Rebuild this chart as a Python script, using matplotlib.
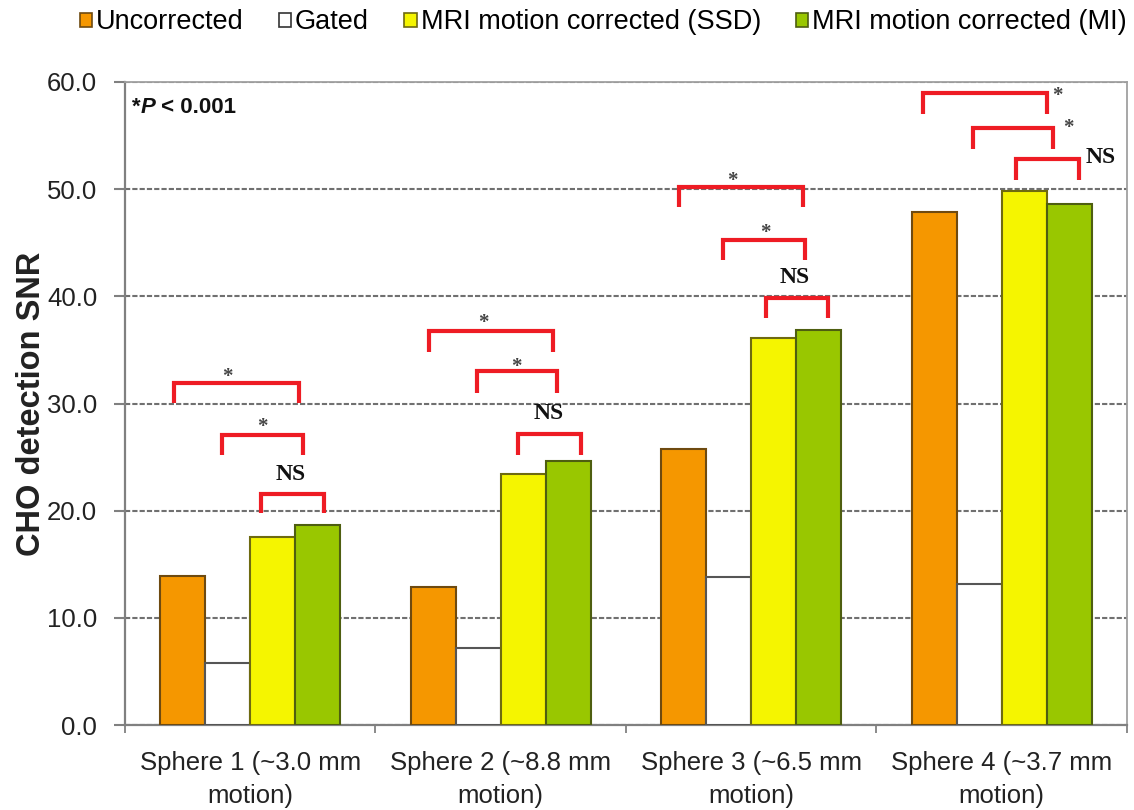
import matplotlib
matplotlib.use("Agg")
import matplotlib.pyplot as plt
from matplotlib.patches import Patch
import numpy as np

plt.rcParams["font.family"] = ["Liberation Sans", "DejaVu Sans"]

# ---- data ----
categories = ["Sphere 1 (~3.0 mm\nmotion)", "Sphere 2 (~8.8 mm\nmotion)",
              "Sphere 3 (~6.5 mm\nmotion)", "Sphere 4 (~3.7 mm\nmotion)"]
series_names = ["Uncorrected", "Gated", "MRI motion corrected (SSD)",
                "MRI motion corrected (MI)"]
uncorrected = [13.9, 12.9, 25.8, 47.9]
gated = [5.8, 7.2, 13.8, 13.2]
ssd = [17.5, 23.4, 36.1, 49.8]
mi = [18.7, 24.6, 36.9, 48.6]
y_ticks = [0, 10, 20, 30, 40, 50, 60]

# significance brackets per sphere: (left, right, top, leg end, label, label x, label y)
brackets = [
    [(-0.304, 0.195, 31.95, 30.07, "*", -0.090, 33.1),
     (-0.114, 0.209, 27.1, 25.2, "*", 0.050, 28.4),
     (0.042, 0.296, 21.6, 19.8, "NS", 0.161, 23.4)],
    [(-0.286, 0.210, 36.8, 34.8, "*", -0.070, 38.1),
     (-0.096, 0.223, 33.0, 31.0, "*", 0.064, 34.05),
     (0.068, 0.320, 27.2, 25.2, "NS", 0.190, 29.1)],
    [(-0.287, 0.208, 50.2, 48.3, "*", -0.074, 51.4),
     (-0.114, 0.215, 45.3, 43.4, "*", 0.058, 46.5),
     (0.059, 0.308, 39.8, 38.0, "NS", 0.175, 41.8)],
    [(-0.313, 0.182, 59.0, 57.05, "*", 0.222, 59.3),
     (-0.116, 0.206, 55.7, 53.7, "*", 0.266, 56.3),
     (0.057, 0.307, 52.8, 50.9, "NS", 0.395, 52.95)],
]

# ---- styling ----
fills = ["#F59700", "#FFFFFF", "#F5F500", "#99C700"]
edges = ["#6E4A10", "#555555", "#6E6A10", "#4E5E10"]
offsets = [-0.27, -0.09, 0.09, 0.27]
bar_w = 0.18
bracket_red = "#EE1C24"

fig = plt.figure(figsize=(11.34, 8.10), dpi=100)
ax = fig.add_axes([0.1102, 0.1049, 0.8836, 0.7939])

x = np.arange(len(categories))
for vals, off, fc, ec in zip([uncorrected, gated, ssd, mi], offsets, fills, edges):
    ax.bar(x + off, vals, width=bar_w, color=fc, edgecolor=ec, linewidth=1.5, zorder=3)

# brackets and their labels
for i, group in enumerate(brackets):
    for (xl, xr, yt, yb, lab, lx, ly) in group:
        ax.plot([i + xl, i + xl, i + xr, i + xr], [yb, yt, yt, yb],
                color=bracket_red, linewidth=3.0, solid_joinstyle="miter",
                solid_capstyle="butt", zorder=4)
        if lab == "*":
            ax.text(i + lx, ly - 0.6, "*", ha="center", va="center",
                    fontsize=15, color="#444444", family="Liberation Serif",
                    fontweight="bold", zorder=5)
        else:
            ax.text(i + lx, ly, lab, ha="center", va="center",
                    fontsize=17, color="#111111", family="Liberation Serif",
                    fontweight="bold", zorder=5)

# axes cosmetics
ax.set_xlim(-0.5, 3.5)
ax.set_ylim(0, 60)
ax.set_yticks(y_ticks)
ax.set_yticklabels([f"{v:.1f}" for v in y_ticks])
ax.set_xticks(x)
ax.set_xticklabels(categories, fontsize=18.5, color="#222222", linespacing=1.45)
ax.set_xticks(np.arange(-0.5, 3.6, 1.0), minor=True)
ax.tick_params(axis="x", which="major", length=0, pad=19)
ax.tick_params(axis="x", which="minor", length=6, width=1.2, color="#777777",
               direction="out")
ax.tick_params(axis="y", length=8, width=1.5, color="#808080", pad=12,
               labelsize=18.5, labelcolor="#222222")

ax.yaxis.grid(True, linestyle=(0, (2.5, 1.0)), color="#707070", linewidth=1.5, zorder=0)
ax.set_axisbelow(True)

for side in ["left", "bottom"]:
    ax.spines[side].set_color("#808080")
    ax.spines[side].set_linewidth(1.6)
for side in ["top", "right"]:
    ax.spines[side].set_color("#A0A0A0")
    ax.spines[side].set_linewidth(1.3)

ax.set_ylabel("CHO detection SNR", fontsize=23.5, fontweight="bold", color="#222222")
ax.yaxis.set_label_coords(-0.078, 0.5)

# significance note
t1 = ax.text(0.007, 0.977, "*", transform=ax.transAxes, fontsize=16,
             fontweight="bold", ha="left", va="top", color="#111111")
t2 = ax.annotate("P", xy=(1, 0), xycoords=t1, ha="left", va="bottom",
                 fontsize=16, fontweight="bold", fontstyle="italic", color="#111111")
ax.annotate(" < 0.001", xy=(1, 0), xycoords=t2, ha="left", va="bottom",
            fontsize=16, fontweight="bold", color="#111111")

# legend above the plot
handles = [Patch(facecolor=fc, edgecolor=ec, linewidth=1.2) for fc, ec in zip(fills, edges)]
handles[1] = Patch(facecolor="white", edgecolor="#333333", linewidth=1.2)
fig.legend(handles, series_names, loc="upper center", bbox_to_anchor=(0.532, 1.0),
           ncol=4, frameon=False, fontsize=19.5, handlelength=0.45, handleheight=0.45,
           handletextpad=0.15, columnspacing=1.3, borderpad=0.2, borderaxespad=0.15)

fig.savefig("out.png", dpi=100)
